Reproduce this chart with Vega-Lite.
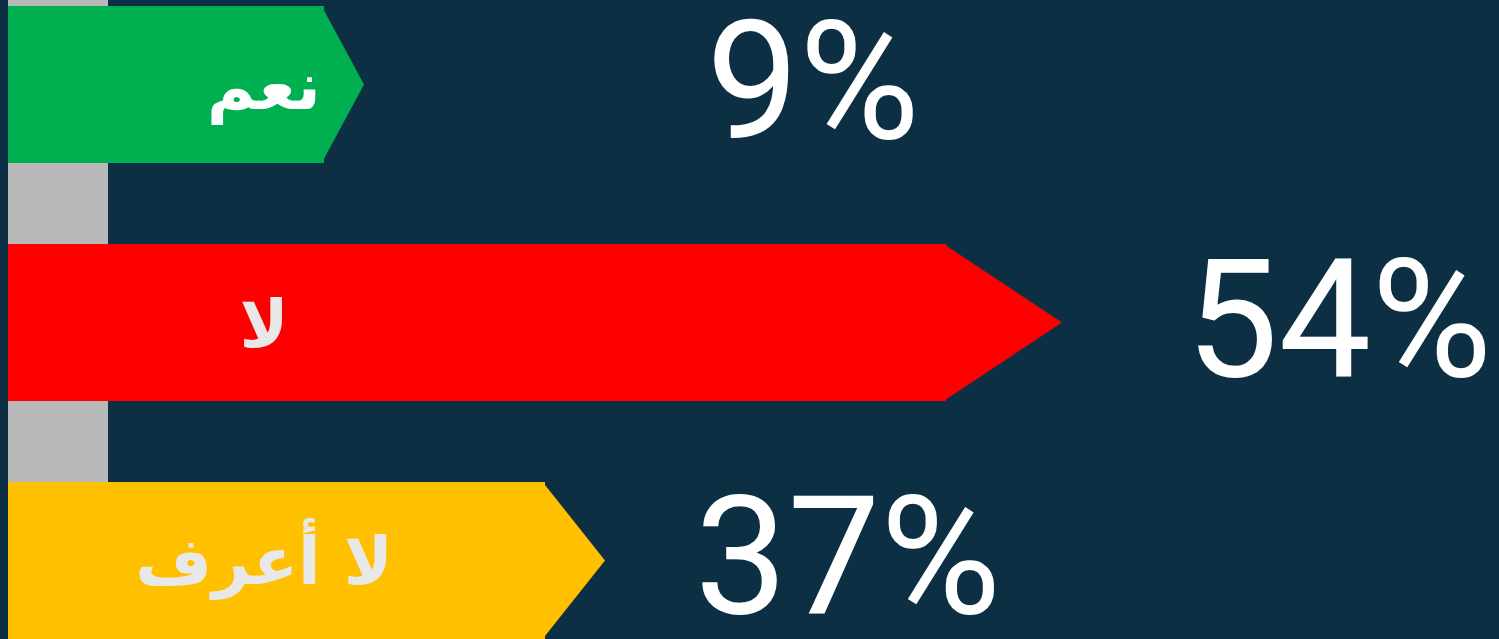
{
  "$schema": "https://vega.github.io/schema/vega-lite/v6.json",
  "width": 1499,
  "height": 639,
  "padding": 0,
  "autosize": {"type": "none"},
  "background": "#0c2f44",
  "config": {"view": {"stroke": null}},
  "data": {"values": [
    {"answer": "نعم", "share": 0.09, "length": 316},
    {"answer": "لا", "share": 0.54, "length": 938},
    {"answer": "لا أعرف", "share": 0.37, "length": 537}
  ]},
  "layer": [
    {
      "data": {"values": [{"pole": "post"}]},
      "mark": {"type": "rule", "color": "#b8b8b8", "strokeWidth": 100, "strokeCap": "butt"},
      "encoding": {
        "x": {"datum": 50, "type": "quantitative", "scale": {"domain": [-8, 1491], "nice": false, "zero": false}, "axis": null}
      }
    },
    {
      "mark": {"type": "bar", "opacity": 1},
      "encoding": {
        "y": {"field": "answer", "type": "nominal", "sort": ["نعم", "لا", "لا أعرف"], "scale": {"range": [6, 639], "paddingInner": 0.34, "paddingOuter": 0}, "axis": null},
        "x": {"field": "length", "type": "quantitative", "axis": null},
        "color": {"field": "answer", "type": "nominal", "scale": {"domain": ["نعم", "لا", "لا أعرف"], "range": ["#00b050", "#ff0000", "#ffc000"]}, "legend": null}
      }
    },
    {
      "mark": {"type": "point", "filled": true, "opacity": 1, "strokeWidth": 0, "size": 24649},
      "encoding": {
        "y": {"field": "answer", "type": "nominal", "sort": ["نعم", "لا", "لا أعرف"], "axis": null},
        "x": {"field": "length", "type": "quantitative", "axis": null},
        "color": {"field": "answer", "type": "nominal", "legend": null},
        "shape": {"field": "answer", "type": "nominal", "scale": {"domain": ["نعم", "لا", "لا أعرف"], "range": ["M-0.03,-1L0.51,0L-0.03,1Z", "M-0.03,-1L1.478,0L-0.03,1Z", "M-0.03,-1L0.764,0L-0.03,1Z"]}, "legend": null}
      }
    },
    {
      "mark": {"type": "text", "font": "DejaVu Sans", "fontWeight": "bold", "fontSize": 66, "align": "center", "baseline": "alphabetic", "dy": 24},
      "encoding": {
        "y": {"field": "answer", "type": "nominal", "sort": ["نعم", "لا", "لا أعرف"], "axis": null},
        "x": {"datum": 256, "type": "quantitative"},
        "text": {"field": "answer"},
        "color": {"condition": {"test": "datum.answer === 'نعم'", "value": "#ffffff"}, "value": "#e8e8e8"}
      }
    },
    {
      "mark": {"type": "text", "font": "Roboto", "fontSize": 165, "align": "center", "baseline": "middle", "dy": 3, "color": "#ffffff"},
      "transform": [{"filter": "datum.answer === 'نعم'"}],
      "encoding": {
        "y": {"field": "answer", "type": "nominal", "sort": ["نعم", "لا", "لا أعرف"], "axis": null},
        "x": {"datum": 805, "type": "quantitative"},
        "text": {"field": "share", "type": "quantitative", "format": ".0%"}
      }
    },
    {
      "mark": {"type": "text", "font": "Roboto", "fontSize": 165, "align": "center", "baseline": "middle", "dy": 3, "color": "#ffffff"},
      "transform": [{"filter": "datum.answer === 'لا'"}],
      "encoding": {
        "y": {"field": "answer", "type": "nominal", "sort": ["نعم", "لا", "لا أعرف"], "axis": null},
        "x": {"datum": 1331, "type": "quantitative"},
        "text": {"field": "share", "type": "quantitative", "format": ".0%"}
      }
    },
    {
      "mark": {"type": "text", "font": "Roboto", "fontSize": 165, "align": "center", "baseline": "middle", "dy": 3, "color": "#ffffff"},
      "transform": [{"filter": "datum.answer === 'لا أعرف'"}],
      "encoding": {
        "y": {"field": "answer", "type": "nominal", "sort": ["نعم", "لا", "لا أعرف"], "axis": null},
        "x": {"datum": 840, "type": "quantitative"},
        "text": {"field": "share", "type": "quantitative", "format": ".0%"}
      }
    }
  ]
}
